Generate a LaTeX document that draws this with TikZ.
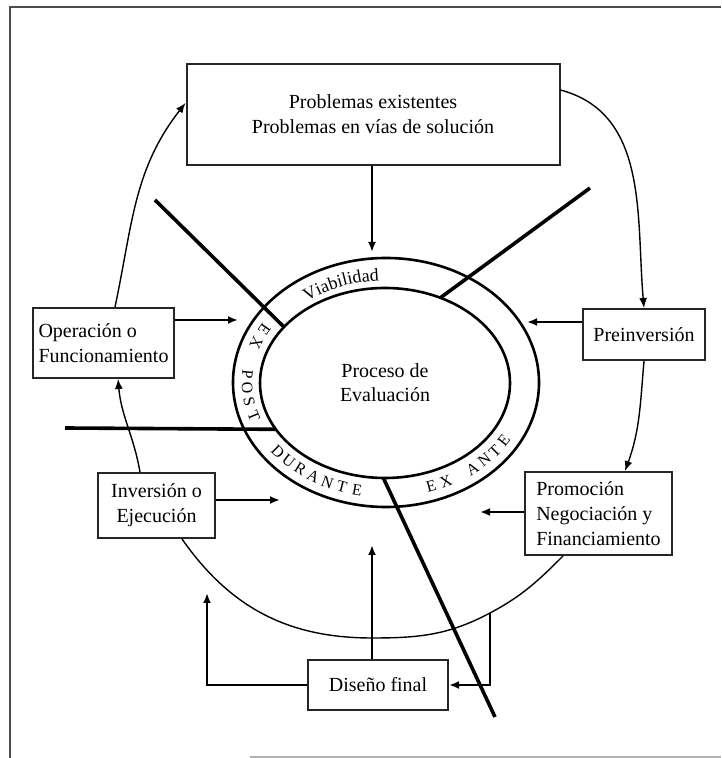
\documentclass[tikz,border=0pt]{standalone}
\usepackage{fontspec}
\setmainfont{Liberation Serif}
\usetikzlibrary{arrows.meta,shapes.geometric,decorations.text}

\begin{document}
\begin{tikzpicture}[x=0.5pt,y=0.5pt,
	box/.style={draw=black!85,line width=1pt,inner sep=3pt,align=center,font=\fontsize{10}{12.5}\selectfont},
	arr/.style={line width=1pt,-{Latex[length=5pt,width=4pt]}},
	flow/.style={line width=0.7pt},
	divider/.style={line width=1.8pt},
	ring/.style={ellipse,draw,line width=1.3pt,inner sep=0pt,outer sep=0pt},
	ringletter/.style={inner sep=0pt,font=\footnotesize},
	ringtext/.style={decorate,decoration={text along path,text align=center,text={#1}}}]
	\useasboundingbox (0,0) rectangle (721,758);

	% Frame
	\draw[black!70,line width=1pt] (10,0) -- (10,751) -- (721,751);
	\draw[black!30,line width=0.8pt] (250,1) -- (721,1);

	% Ring
	\node[ring,minimum width=153pt,minimum height=124.5pt] (outer) at (386,375.5) {};
	\node[ring,minimum width=125pt,minimum height=95pt,align=center] (inner) at (385,375) {Proceso de\\Evaluación};

	% Sector lines
	\coordinate (d1) at (155,558);
	\coordinate (d2) at (590,570);
	\coordinate (d3) at (65,330);
	\coordinate (d4) at (495,41);
	\draw[divider] (d1) -- (inner.151);
	\draw[divider] (d2) -- (inner.57);
	\draw[divider] (d3) -- (inner.203);
	\draw[divider] (d4) -- (inner.269);

	% Sector labels
	\path[ringtext={|\small|Viabilidad}] (outer.center) ++(145:65.5pt and 51pt)
		arc[start angle=145,end angle=77,x radius=65.5pt,y radius=51pt];
	\foreach \l/\t [count=\i] in {E/151,X/159,P/176,O/183,S/190,T/198,
		D/219,U/225.5,R/232,A/238.5,N/245,T/251.5,E/258,
		E/289,X/295.5,A/308.5,N/315,T/321.5,E/328}
		\path (outer.center) ++(\t:69.5pt and 55pt)
			node[ringletter,rotate={atan2(55*cos(\t),-69.5*sin(\t))}] (l\i) {\l};

	% Stages
	\node[box,minimum width=186.5pt,minimum height=50.5pt] (prob) at (373,643.5) {Problemas existentes\\Problemas en vías de solución};
	\node[box,align=left,minimum width=70.5pt,minimum height=35pt] (oper) at (103.5,415) {Operación o\\Funcionamiento};
	\node[box,minimum width=61pt,minimum height=25.5pt] (prein) at (644,423.5) {Preinversión};
	\node[box,minimum width=58.5pt,minimum height=32.5pt] (inver) at (156.5,252.5) {Inversión o\\Ejecución};
	\node[box,align=left,minimum width=73.5pt,minimum height=41.5pt] (promo) at (598.5,244.5) {Promoción\\Negociación y\\Financiamiento};
	\node[box,minimum width=70pt,minimum height=25pt] (dis) at (378,73) {Diseño final};

	% Cycle
	\coordinate (bot) at (372,120);
	\coordinate (arcR) at (490,145);
	\draw[flow,-{Latex[length=5pt,width=4pt]}] (oper.north -| 115,0) to[out=78,in=232] (prob.west |- 0,655);
	\draw[flow,-{Latex[length=5pt,width=4pt]}] (prob.east |- 0,668) to[out=-15,in=95] (prein.north);
	\draw[flow,-{Latex[length=5pt,width=4pt]}] (prein.south) to[out=-95,in=70] (promo.north -| 625,0);
	\draw[flow] (promo.south -| 563,0) to[out=-135,in=28] (arcR) to[out=-152,in=0] (bot) to[out=180,in=-55] (inver.south -| 182,0);
	\draw[flow,-{Latex[length=5pt,width=4pt]}] (inver.north -| 140,0) to[out=100,in=-85] (oper.south -| 118,0);

	% Inputs to the process
	\coordinate (top) at (372,506);
	\coordinate (left) at (238,438);
	\coordinate (right) at (527,436);
	\coordinate (lowl) at (280,258);
	\coordinate (lowr) at (480,246);
	\coordinate (up) at (372,213);
	\draw[arr] (prob.south -| top) -- (top);
	\draw[arr] (oper.east |- left) -- (left);
	\draw[arr] (prein.west |- right) -- (right);
	\draw[arr] (inver.east |- lowl) -- (lowl);
	\draw[arr] (promo.west |- lowr) -- (lowr);
	\draw[arr] (dis.north -| up) -- (up);

	% Feedback from final design
	\coordinate (lup) at (207,165);
	\draw[arr] (arcR) |- (dis.east);
	\draw[arr] (dis.west) -| (lup);
\end{tikzpicture}
\end{document}
